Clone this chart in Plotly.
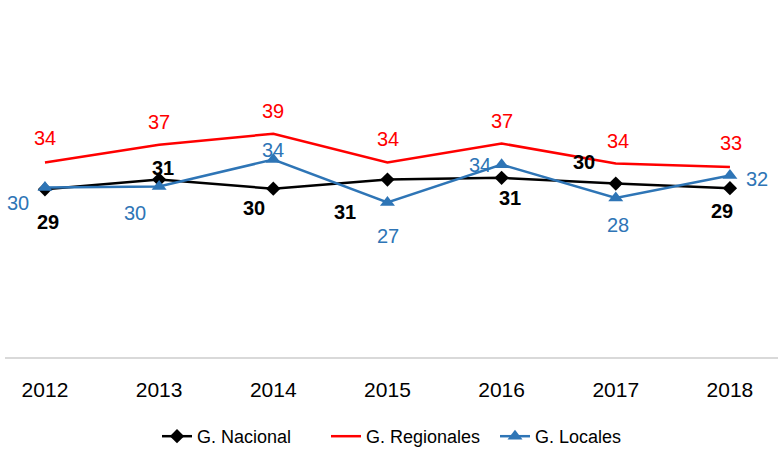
import plotly.graph_objects as go

years = ["2012", "2013", "2014", "2015", "2016", "2017", "2018"]
nacional = [29.3, 31.0, 29.4, 31.0, 31.3, 30.3, 29.5]
regionales = [34.0, 37.1, 39.0, 34.0, 37.3, 33.8, 33.2]
locales = [29.6, 29.8, 34.5, 27.0, 33.6, 27.8, 31.7]
nacional_labels = [29, 31, 30, 31, 31, 30, 29]
regionales_labels = [34, 37, 39, 34, 37, 34, 33]
locales_labels = [30, 30, 34, 27, 34, 28, 32]

BLACK = "#000000"
RED = "#FF0000"
BLUE = "#2E75B6"
FONT = "Liberation Sans, Arial, sans-serif"

fig = go.Figure()
fig.add_trace(go.Scatter(x=years, y=nacional, name="G. Nacional", mode="lines+markers",
                         line=dict(color=BLACK, width=2.5),
                         marker=dict(symbol="diamond", size=11, color=BLACK)))
fig.add_trace(go.Scatter(x=years, y=regionales, name="G. Regionales", mode="lines",
                         line=dict(color=RED, width=2.5)))
fig.add_trace(go.Scatter(x=years, y=locales, name="G. Locales", mode="lines+markers",
                         line=dict(color=BLUE, width=2.5),
                         marker=dict(symbol="triangle-up", size=13, color=BLUE)))

# label offsets in pixels (style only)
nac_off = [(3, -33), (4, 12), (-19, -19), (-42, -32), (8, -20), (-32, 22), (-8, -23)]
reg_off = [(0, 24), (0, 23), (0, 23), (1, 23), (0, 23), (2, 23), (1, 24)]
loc_off = [(-27, -15), (-24, -27), (0, 10), (1, -34), (-22, 0), (2, -27), (27, -3)]

annotations = []
for vals, labs, offs, col, bold in [
    (regionales, regionales_labels, reg_off, RED, False),
    (locales, locales_labels, loc_off, BLUE, False),
    (nacional, nacional_labels, nac_off, BLACK, True),
]:
    for i, (v, lab, (dx, dy)) in enumerate(zip(vals, labs, offs)):
        txt = f"<b>{lab}</b>" if bold else str(lab)
        annotations.append(dict(x=i, y=v, xref="x", yref="y", text=txt, showarrow=False,
                                xshift=dx, yshift=dy, xanchor="center", yanchor="middle",
                                font=dict(family=FONT, size=20, color=col)))

fig.update_layout(
    width=778, height=455,
    margin=dict(l=5, r=0, t=0, b=97),
    paper_bgcolor="white", plot_bgcolor="white",
    font=dict(family=FONT, color="black"),
    xaxis=dict(type="category", range=[-0.35, 6.421], showgrid=False, zeroline=False,
               showline=True, linecolor="#D9D9D9", linewidth=1.5,
               ticks="outside", ticklen=13, tickcolor="rgba(0,0,0,0)",
               tickfont=dict(size=21, color="black")),
    yaxis=dict(range=[0, 62.37], visible=False, showgrid=False, zeroline=False),
    showlegend=True,
    legend=dict(orientation="h", x=(157 - 5) / 773, xanchor="left", y=-0.223, yanchor="middle",
                font=dict(size=18, color="black"), itemwidth=30,
                entrywidth=124, entrywidthmode="pixels"),
    annotations=annotations,
)

fig.write_html("out.html", config={"displayModeBar": False},
               post_script="document.body.style.margin='0';")
